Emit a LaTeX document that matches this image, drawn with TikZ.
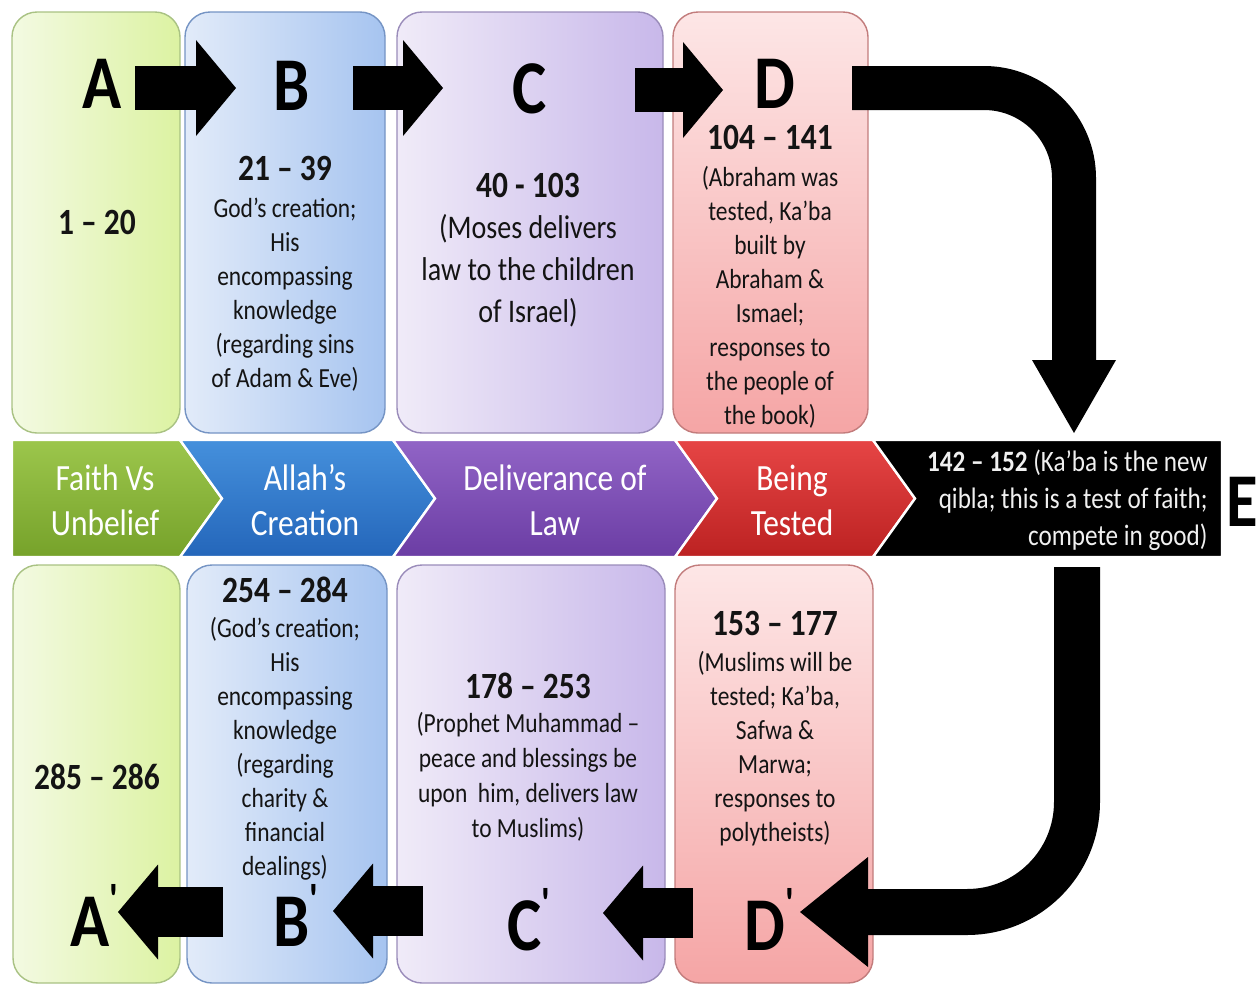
\documentclass[tikz,border=0pt]{standalone}
\usepackage{fontspec}
\setmainfont{Carlito}[FakeStretch=0.85]
\usetikzlibrary{arrows.meta}
\definecolor{txt}{HTML}{141414}
\definecolor{gL}{HTML}{F3FAE2}
\definecolor{gR}{HTML}{DCF2A2}
\definecolor{gB}{HTML}{A9C283}
\definecolor{bL}{HTML}{E2EBF9}
\definecolor{bR}{HTML}{A6C4F0}
\definecolor{bB}{HTML}{7594C4}
\definecolor{pL}{HTML}{F0EBF8}
\definecolor{pR}{HTML}{C8B8EA}
\definecolor{pB}{HTML}{9A8CBA}
\definecolor{rT}{HTML}{FDE6E6}
\definecolor{rBo}{HTML}{F5A5A5}
\definecolor{rB}{HTML}{C27C7C}
\definecolor{cgT}{HTML}{9CC64C}
\definecolor{cgB}{HTML}{76A22A}
\definecolor{cbT}{HTML}{4590DC}
\definecolor{cbB}{HTML}{2466BA}
\definecolor{cpT}{HTML}{9164C6}
\definecolor{cpB}{HTML}{6B3DA4}
\definecolor{crT}{HTML}{E64545}
\definecolor{crB}{HTML}{BC2222}
\newcommand{\primemark}{\raisebox{0.42em}{\fontsize{22}{22}\selectfont\textquotesingle}}
\begin{document}
\begin{tikzpicture}[x=0.5pt, y=-0.5pt,
  box/.style={rounded corners=12.5pt, line width=0.7pt},
  chev/.style={draw=white, line width=1.2pt},
  letter/.style={font=\bfseries\fontsize{38}{40}\selectfont, inner sep=0pt, anchor=base, text=black},
  num/.style={font=\bfseries\fontsize{18.5}{22}\selectfont, text=txt, inner sep=0pt},
  body/.style={font=\fontsize{13.8}{17}\selectfont, align=center, text=txt, inner sep=0pt},
  bigbody/.style={font=\fontsize{16.5}{21}\selectfont, align=center, text=txt, inner sep=0pt},
  band/.style={font=\fontsize{18.5}{22.5}\selectfont, align=center, text=white, inner sep=0pt},
  etext/.style={font=\fontsize{14.8}{18.5}\selectfont, align=right, text=white!94!black, inner sep=0pt, anchor=east},
  toparrow/.style={draw=black, line width=22pt, -{Triangle[length=20pt,width=48pt,line width=0pt]}},
  botarrow/.style={draw=black, line width=25pt, -{Triangle[length=20pt,width=47.5pt,line width=0pt]}},
  bigarrow/.style={draw=black, line width=22pt, rounded corners=45pt, -{Triangle[length=36.5pt,width=42pt,line width=0pt]}},
  bigarrowb/.style={draw=black, line width=23pt, rounded corners=55pt, -{Triangle[length=34pt,width=55pt,line width=0pt]}}
]
\useasboundingbox[fill=white] (0,0) rectangle (1258,986);

% top boxes
\path[box, draw=gB, left color=gL, right color=gR] (12,12) rectangle (180,433);
\path[box, draw=bB, left color=bL, right color=bR] (185,12) rectangle (385,433);
\path[box, draw=pB, left color=pL, right color=pR] (397,12) rectangle (663,433);
\path[box, draw=rB, top color=rT, bottom color=rBo] (673,12) rectangle (868,433);
% bottom boxes
\path[box, draw=gB, left color=gL, right color=gR] (13,565) rectangle (180,983);
\path[box, draw=bB, left color=bL, right color=bR] (187,565) rectangle (387,983);
\path[box, draw=pB, left color=pL, right color=pR] (397,565) rectangle (665,983);
\path[box, draw=rB, top color=rT, bottom color=rBo] (675,565) rectangle (873,983);

% chevron band
\path[chev, top color=cgT, bottom color=cgB] (12,440) -- (180,440) -- (222,498.5) -- (180,557) -- (12,557) -- cycle;
\path[chev, top color=cbT, bottom color=cbB] (180,440) -- (393,440) -- (435,498.5) -- (393,557) -- (180,557) -- (222,498.5) -- cycle;
\path[chev, top color=cpT, bottom color=cpB] (393,440) -- (675,440) -- (717,498.5) -- (675,557) -- (393,557) -- (435,498.5) -- cycle;
\path[chev, top color=crT, bottom color=crB] (675,440) -- (873,440) -- (915,498.5) -- (873,557) -- (675,557) -- (717,498.5) -- cycle;
\path[chev, fill=black] (873,440) -- (1222,440) -- (1222,557) -- (873,557) -- (915,498.5) -- cycle;

% texts in boxes
\node[num] (nA) at (97,222) {1 – 20};
\node[num] (nB) at (285,168) {21 – 39};
\node[body] (tB) at (285,295) {God’s creation;\\His\\encompassing\\knowledge\\(regarding sins\\of Adam \& Eve)};
\node[num] (nC) at (528,185) {40 - 103};
\node[bigbody] (tC) at (528,271) {(Moses delivers\\law to the children\\of Israel)};
\node[num] (nD) at (770,137) {104 – 141};
\node[body] (tD) at (770,297) {(Abraham was\\tested, Ka’ba\\built by\\Abraham \&\\Ismael;\\responses to\\the people of\\the book)};

\node[band] (bA) at (105,500) {Faith Vs\\Unbelief};
\node[band] (bB) at (305,500) {Allah’s\\Creation};
\node[band] (bC) at (555,500) {Deliverance of\\Law};
\node[band] (bD) at (792,500) {Being\\Tested};
\node[etext] (tE) at (1208,500) {\textbf{142 – 152} (Ka’ba is the new\\qibla; this is a test of faith;\\compete in good)};

\node[num] (nA2) at (97,777) {285 – 286};
\node[num] (nB2) at (285,590) {254 – 284};
\node[body] (tB2) at (285,749) {(God’s creation;\\His\\encompassing\\knowledge\\(regarding\\charity \&\\financial\\dealings)};
\node[num] (nC2) at (528,686) {178 – 253};
\node[body, font=\fontsize{13.8}{17.5}\selectfont] (tC2) at (528,777) {(Prophet Muhammad –\\peace and blessings be\\upon\ \ him, delivers law\\to Muslims)};
\node[num] (nD2) at (775,623) {153 – 177};
\node[body] (tD2) at (775,749) {(Muslims will be\\tested; Ka’ba,\\Safwa \&\\Marwa;\\responses to\\polytheists)};

% letters
\node[letter] (lA) at (102,108) {A};
\node[letter] (lB) at (292,110) {B};
\node[letter] (lC) at (530,113) {C};
\node[letter] (lD) at (775,108) {D};
\node[letter] (lE) at (1242,526) {E};
\node[letter] (lA2) at (95,946) {A\primemark};
\node[letter] (lB2) at (297,946) {B\primemark};
\node[letter] (lC2) at (530,950) {C\primemark};
\node[letter] (lD2) at (770,950) {D\primemark};

% arrow end points
\coordinate (ab1) at (135,88);  \coordinate (ab2) at (236,88);
\coordinate (bc1) at (353,88);  \coordinate (bc2) at (443,88);
\coordinate (cd1) at (635,90);  \coordinate (cd2) at (723,90);
\coordinate (de1) at (852,88);  \coordinate (de2) at (1074,88); \coordinate (de3) at (1074,433);
\coordinate (ed1) at (1077,567); \coordinate (ed2) at (1077,912); \coordinate (ed3) at (800,912);
\coordinate (dc1) at (693,913); \coordinate (dc2) at (603,913);
\coordinate (cb1) at (423,911); \coordinate (cb2) at (333,911);
\coordinate (ba1) at (223,912); \coordinate (ba2) at (118,912);

\draw[toparrow] (ab1) -- (ab2);
\draw[toparrow] (bc1) -- (bc2);
\draw[toparrow] (cd1) -- (cd2);
\draw[bigarrow] (de1) -- (de2) -- (de3);
\draw[bigarrowb] (ed1) -- (ed2) -- (ed3);
\draw[botarrow] (dc1) -- (dc2);
\draw[botarrow] (cb1) -- (cb2);
\draw[botarrow] (ba1) -- (ba2);
\end{tikzpicture}
\end{document}
